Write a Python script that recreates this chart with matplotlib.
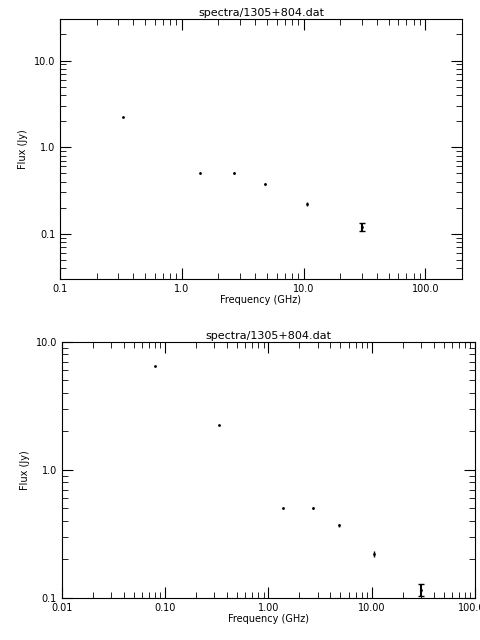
import numpy as np
import matplotlib
matplotlib.use("Agg")
import matplotlib.pyplot as plt
from matplotlib.ticker import FixedLocator, FixedFormatter, LogLocator, NullFormatter

# Spectrum values
freq_top = [0.33, 1.4, 2.7, 4.85, 10.6, 30.0]
flux_top = [2.25, 0.50, 0.50, 0.38, 0.22, 0.12]
err_top = [0.0, 0.0, 0.01, 0.01, 0.01, 0.012]

freq_bot = [0.08, 0.33, 1.4, 2.7, 4.85, 10.6, 30.0]
flux_bot = [6.5, 2.25, 0.50, 0.50, 0.37, 0.22, 0.115]
err_bot = [0.0, 0.0, 0.0, 0.01, 0.01, 0.01, 0.012]

title = "spectra/1305+804.dat"

plt.rcParams['font.size'] = 7
fig = plt.figure(figsize=(4.8, 6.4), dpi=100)


def style_axis(ax, xticks, xlabels, yticks, ylabels):
    ax.set_xscale('log')
    ax.set_yscale('log')
    ax.xaxis.set_major_locator(FixedLocator(xticks))
    ax.xaxis.set_major_formatter(FixedFormatter(xlabels))
    ax.yaxis.set_major_locator(FixedLocator(yticks))
    ax.yaxis.set_major_formatter(FixedFormatter(ylabels))
    ax.xaxis.set_minor_locator(LogLocator(base=10, subs=np.arange(2, 10)))
    ax.yaxis.set_minor_locator(LogLocator(base=10, subs=np.arange(2, 10)))
    ax.xaxis.set_minor_formatter(NullFormatter())
    ax.yaxis.set_minor_formatter(NullFormatter())
    ax.tick_params(which='both', direction='in', top=True, right=True)
    ax.tick_params(which='major', length=8)
    ax.tick_params(which='minor', length=4)
    ax.set_xlabel('Frequency (GHz)', labelpad=1)
    ax.set_ylabel('Flux (Jy)')
    ax.set_title(title, pad=2, fontsize=8)


def draw_points(ax, freq, flux, err):
    ax.plot(freq, flux, '.', color='black', markersize=2)
    # only the last point has a visible error bar with caps
    ax.errorbar(freq[-1:], flux[-1:], yerr=err[-1:], fmt='none', ecolor='black',
                elinewidth=1.5, capsize=2, capthick=1)
    ax.errorbar(freq[:-1], flux[:-1], yerr=err[:-1], fmt='none', ecolor='black',
                elinewidth=1, capsize=0)


ax1 = fig.add_axes([0.125, 0.564, 0.8375, 0.406])
draw_points(ax1, freq_top, flux_top, err_top)
ax1.set_xlim(0.1, 200)
ax1.set_ylim(0.03, 30)
style_axis(ax1, [0.1, 1, 10, 100], ['0.1', '1.0', '10.0', '100.0'],
           [0.1, 1, 10], ['0.1', '1.0', '10.0'])

ax2 = fig.add_axes([0.129, 0.066, 0.86, 0.4])
draw_points(ax2, freq_bot, flux_bot, err_bot)
ax2.set_xlim(0.01, 100)
ax2.set_ylim(0.1, 10)
style_axis(ax2, [0.01, 0.1, 1, 10, 100], ['0.01', '0.10', '1.00', '10.00', '100.00'],
           [0.1, 1, 10], ['0.1', '1.0', '10.0'])

fig.savefig('out.png', dpi=100)
